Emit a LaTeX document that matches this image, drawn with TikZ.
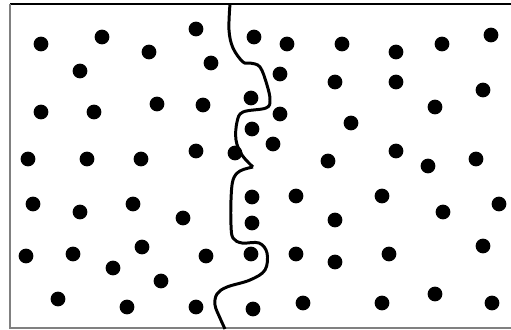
\documentclass[tikz,border=0pt]{standalone}
\usetikzlibrary{calc}

\begin{document}
\begin{tikzpicture}[x=0.02cm, y=-0.02cm]
  \useasboundingbox (0,0) rectangle (511,329);

  % Frame (top black, left and bottom grey)
  \draw[line width=0.9pt] (10,4) -- (511,4);
  \draw[gray, line width=0.9pt] (10,4) -- (10,328) -- (511,328);

  % Particles
  \foreach \x/\y in {41/44, 102/37, 149/52, 196/29, 80/71, 211/63, 254/37,
      287/44, 342/44, 396/52, 442/44, 491/35, 280/74, 335/82, 396/82,
      483/90, 435/107, 41/112, 94/112, 157/104, 203/105, 251/98, 280/114,
      351/123, 252/129, 273/144, 28/159, 87/159, 141/159, 196/151, 235/153,
      328/161, 396/151, 428/166, 476/159, 33/204, 80/212, 133/204, 183/218,
      252/197, 296/196, 382/196, 443/212, 499/204, 252/223, 335/220,
      26/256, 73/254, 142/247, 113/268, 161/281, 206/256, 251/254, 296/254,
      335/262, 389/254, 483/246, 58/299, 127/307, 196/307, 253/309,
      303/303, 382/303, 435/294, 492/303}
    \fill (\x,\y) circle (4.2pt);

  % Interface
  \draw[line width=1.7pt] plot[smooth, tension=0.6] coordinates {
      (230,4) (229,30) (233,48) (243,62) (250,63) (260,67) (267,85)
      (270,100) (266,108) (243,112) (237,122) (236,140) (242,155) (253,167)};
  \draw[line width=1.7pt] plot[smooth, tension=0.6] coordinates {
      (253,167) (240,171) (233,180) (231,200) (231,225) (233,238)
      (242,243) (259,243) (267,253) (265,270) (250,280) (227,287)
      (217,294) (215,305) (220,318) (225,329)};
\end{tikzpicture}
\end{document}
